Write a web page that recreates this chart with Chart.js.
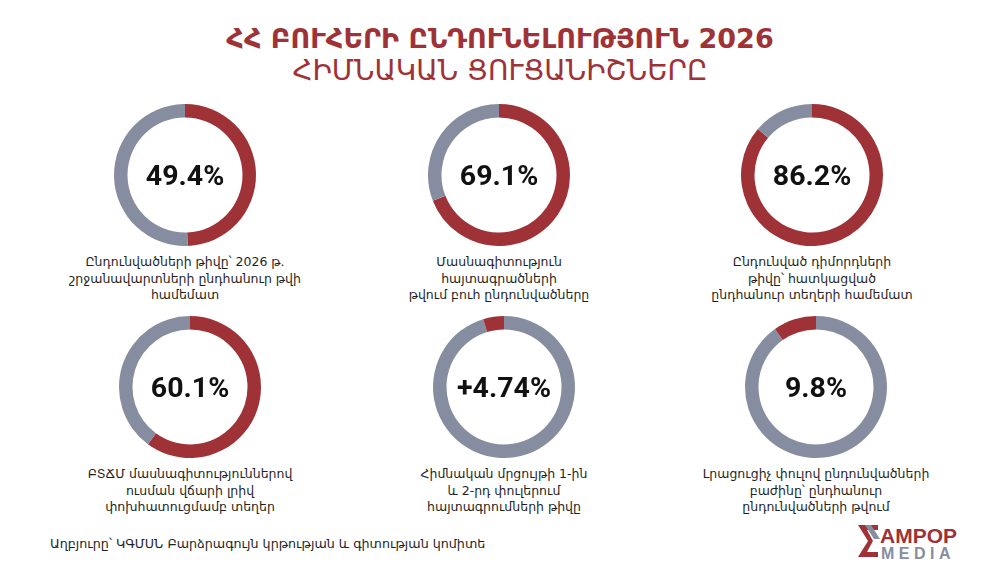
<!DOCTYPE html>
<html lang="hy">
<head>
  <meta charset="utf-8" />
  <title>ՀՀ բուհերի ընդունելություն 2026</title>
  <script src="https://cdn.jsdelivr.net/npm/chart.js"></script>
  <style>
    body { margin: 0; background: #fff; }
    #page {
      position: relative;
      width: 1000px;
      height: 571px;
      overflow: hidden;
      font-family: "DejaVu Sans", "Noto Sans", sans-serif;
      color: #1f1f1f;
    }
    .title {
      position: absolute;
      left: 0;
      width: 1000px;
      text-align: center;
      color: #9e3236;
      font-size: 27px;
      line-height: 32px;
    }
    #t1 { top: 23px; font-weight: bold; }
    #t2 { top: 55px; font-size: 28px; }
    .donut { position: absolute; width: 150px; height: 150px; }
    .caption {
      position: absolute;
      width: 320px;
      text-align: center;
      font-size: 12.5px;
      line-height: 16.5px;
    }
    #source { position: absolute; left: 50px; top: 536px; font-size: 12.7px; }
    #logo { position: absolute; left: 856px; top: 522px; }
  </style>
</head>
<body>
  <div id="page">
    <div class="title" id="t1">ՀՀ ԲՈՒՀԵՐԻ ԸՆԴՈՒՆԵԼՈՒԹՅՈՒՆ 2026</div>
    <div class="title" id="t2">ՀԻՄՆԱԿԱՆ ՑՈՒՑԱՆԻՇՆԵՐԸ</div>
    <div id="source">Աղբյուրը՝ ԿԳՄՍՆ Բարձրագույն կրթության և գիտության կոմիտե</div>
    <svg id="logo" width="115" height="40" viewBox="0 0 115 40">
      <polygon points="2,3 22,3 22,8 11,8 17,19 11,30 22,30 22,35 2,35 12,19" fill="#9e3236" />
      <polygon points="9,3 15,3 24,17 18,17" fill="#878da0" />
      <text x="24" y="21" font-family="Liberation Sans, Arial, sans-serif" font-weight="bold" font-size="21" fill="#9e3236">AMPOP</text>
      <text x="25" y="37" font-family="Liberation Sans, Arial, sans-serif" font-weight="bold" font-size="16" letter-spacing="4.5" fill="#878da0">MEDIA</text>
    </svg>
  </div>

  <script>
    // share values, %
    const values = [49.4, 69.1, 86.2, 60.1, 4.74, 9.8];
    const prefixes = ['', '', '', '', '+', ''];
    const captions = [
      ['Ընդունվածների թիվը՝ 2026 թ.', 'շրջանավարտների ընդհանուր թվի', 'համեմատ'],
      ['Մասնագիտություն', 'հայտագրածների', 'թվում բուհ ընդունվածները'],
      ['Ընդունված դիմորդների', 'թիվը՝ հատկացված', 'ընդհանուր տեղերի համեմատ'],
      ['ԲՏՃՄ մասնագիտություններով', 'ուսման վճարի լրիվ', 'փոխհատուցմամբ տեղեր'],
      ['Հիմնական մրցույթի 1-ին', 'և 2-րդ փուլերում', 'հայտագրումների թիվը'],
      ['Լրացուցիչ փուլով ընդունվածների', 'բաժինը՝ ընդհանուր', 'ընդունվածների թվում']
    ];
    // red slice comes last (ends at 12 o'clock) for the two small ones
    const redLast = [false, false, false, false, true, true];

    const RED = '#9e3236';
    const GRAY = '#878da0';

    const centers = [
      [185, 175], [499, 175], [812, 175],
      [190, 387], [504, 387], [816, 387]
    ];
    const captionTops = [254, 254, 254, 466, 466, 466];

    const centerText = {
      id: 'centerText',
      afterDraw(chart, args, opts) {
        const { ctx, chartArea } = chart;
        const x = (chartArea.left + chartArea.right) / 2;
        const y = (chartArea.top + chartArea.bottom) / 2 + 3;
        ctx.save();
        ctx.font = 'bold 28.5px Roboto, "DejaVu Sans", sans-serif';
        ctx.fillStyle = '#111';
        ctx.textAlign = 'center';
        ctx.textBaseline = 'middle';
        ctx.fillText(opts.text, x, y);
        ctx.restore();
      }
    };

    const page = document.getElementById('page');

    values.forEach((v, i) => {
      const [cx, cy] = centers[i];
      const cv = document.createElement('canvas');
      cv.className = 'donut';
      cv.width = 150;
      cv.height = 150;
      cv.style.left = (cx - 75) + 'px';
      cv.style.top = (cy - 75) + 'px';
      page.appendChild(cv);

      let data = [v, 100 - v];
      let colors = [RED, GRAY];
      if (redLast[i]) {
        data = [100 - v, v];
        colors = [GRAY, RED];
      }

      new Chart(cv, {
        type: 'doughnut',
        data: {
          labels: redLast[i] ? ['other', 'share'] : ['share', 'other'],
          datasets: [{
            data: data,
            backgroundColor: colors,
            borderWidth: 0
          }]
        },
        options: {
          responsive: false,
          animation: false,
          cutout: '81%',
          layout: { padding: 4 },
          plugins: {
            legend: { display: false },
            tooltip: { enabled: false },
            centerText: { text: prefixes[i] + v + '%' }
          }
        },
        plugins: [centerText]
      });

      const cap = document.createElement('div');
      cap.className = 'caption';
      cap.style.left = (cx - 160) + 'px';
      cap.style.top = captionTops[i] + 'px';
      cap.innerHTML = captions[i].join('<br>');
      page.appendChild(cap);
    });
  </script>
</body>
</html>
